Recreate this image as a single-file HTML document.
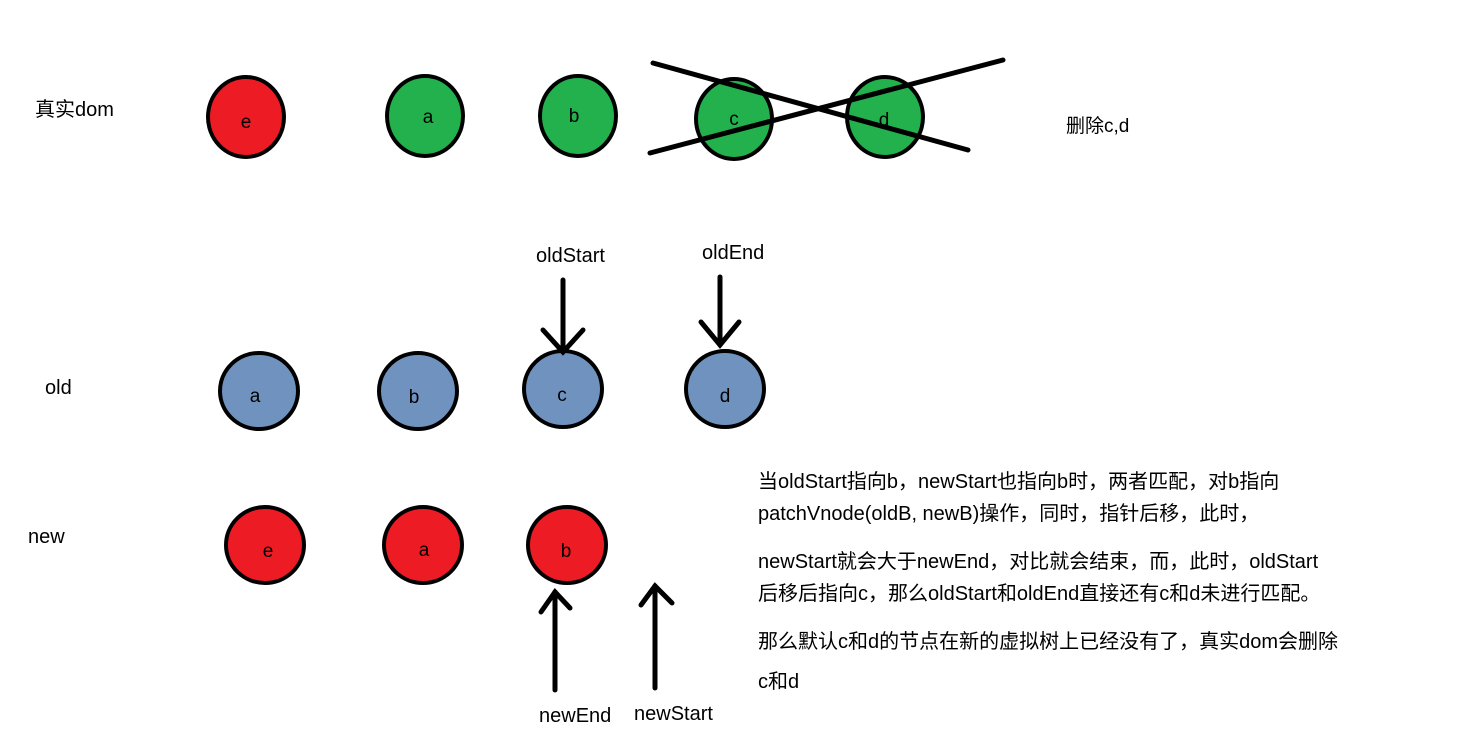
<!DOCTYPE html>
<html><head><meta charset="utf-8"><style>
body{margin:0;background:#fff;width:1459px;height:747px;overflow:hidden}
svg{position:absolute;left:0;top:0}
text{font-family:"Liberation Sans","Noto Sans CJK SC",sans-serif;fill:#000}
</style></head><body>
<svg width="1459" height="747" viewBox="0 0 1459 747">
<g stroke="#000" stroke-width="4">
<ellipse cx="246" cy="117" rx="38" ry="40" fill="#ed1c24"/>
<ellipse cx="425" cy="116" rx="38" ry="40" fill="#22b14c"/>
<ellipse cx="578" cy="116" rx="38" ry="40" fill="#22b14c"/>
<ellipse cx="734" cy="119" rx="38" ry="40" fill="#22b14c"/>
<ellipse cx="885" cy="117" rx="38" ry="40" fill="#22b14c"/>
<ellipse cx="259" cy="391" rx="39" ry="38" fill="#7092be"/>
<ellipse cx="418" cy="391" rx="39" ry="38" fill="#7092be"/>
<ellipse cx="563" cy="389" rx="39" ry="38" fill="#7092be"/>
<ellipse cx="725" cy="389" rx="39" ry="38" fill="#7092be"/>
<ellipse cx="265" cy="545" rx="39" ry="38" fill="#ed1c24"/>
<ellipse cx="423" cy="545" rx="39" ry="38" fill="#ed1c24"/>
<ellipse cx="567" cy="545" rx="39" ry="38" fill="#ed1c24"/>
</g>
<g stroke="#000" stroke-width="5" fill="none" stroke-linecap="round">
<line x1="653" y1="63" x2="968" y2="150"/>
<line x1="650" y1="153" x2="1003" y2="60"/>
<line x1="563" y1="280" x2="563" y2="352"/><polyline points="543,330 563,352 583,330"/>
<line x1="720" y1="277" x2="720" y2="345"/><polyline points="701,322 720,345 739,322"/>
<line x1="555" y1="690" x2="555" y2="592"/><polyline points="541,612 555,592 570,608"/>
<line x1="655" y1="688" x2="655" y2="586"/><polyline points="641,605 655,586 672,603"/>
</g>
<g font-size="19" text-anchor="middle">
<text x="246" y="128">e</text><text x="428" y="123">a</text><text x="574" y="122">b</text>
<text x="734" y="125">c</text><text x="884" y="126">d</text>
<text x="255" y="402">a</text><text x="414" y="403">b</text><text x="562" y="401">c</text><text x="725" y="402">d</text>
<text x="268" y="557">e</text><text x="424" y="556">a</text><text x="566" y="557">b</text>
</g>
<g font-size="20">
<text x="35" y="116">真实dom</text>
<text x="1066" y="132" font-size="19">删除c,d</text>
<text x="45" y="394">old</text>
<text x="28" y="543">new</text>
<text x="536" y="262">oldStart</text>
<text x="702" y="259">oldEnd</text>
<text x="539" y="722">newEnd</text>
<text x="634" y="720">newStart</text>
<text x="758" y="488">当oldStart指向b，newStart也指向b时，两者匹配，对b指向</text>
<text x="758" y="520">patchVnode(oldB, newB)操作，同时，指针后移，此时，</text>
<text x="758" y="568">newStart就会大于newEnd，对比就会结束，而，此时，oldStart</text>
<text x="758" y="600">后移后指向c，那么oldStart和oldEnd直接还有c和d未进行匹配。</text>
<text x="758" y="648">那么默认c和d的节点在新的虚拟树上已经没有了，真实dom会删除</text>
<text x="758" y="688">c和d</text>
</g>
</svg>
</body></html>
